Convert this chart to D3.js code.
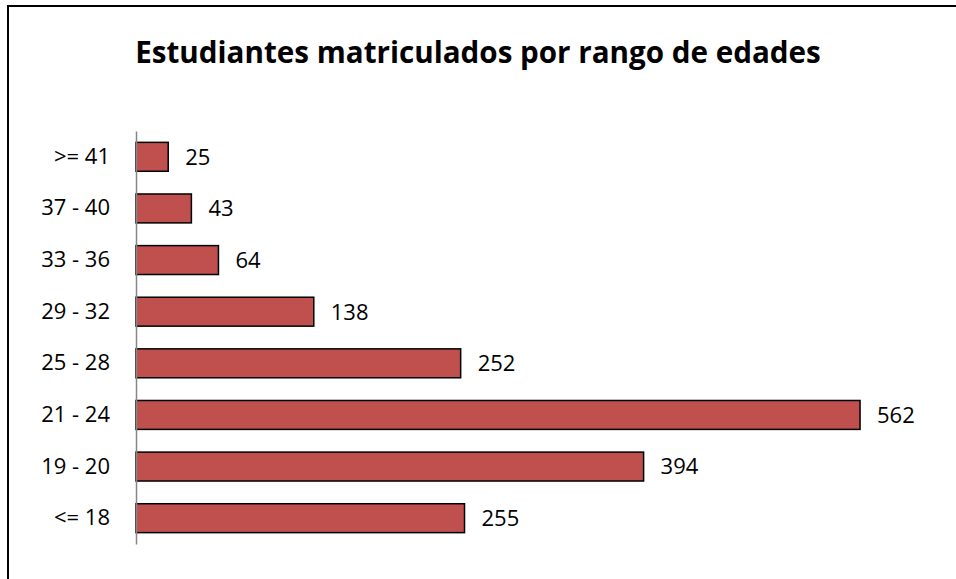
<!DOCTYPE html>
<html>
<head>
<meta charset="utf-8">
<script src="https://cdn.jsdelivr.net/npm/d3@7"></script>
<style>
    body { margin: 0; background: #fff; }
    svg { display: block; }
    text { font-family: "Open Sans", "Liberation Sans", sans-serif; fill: #000; }
</style>
</head>
<body>
<div id="chart"></div>
<script>
// age ranges, top to bottom as drawn
var ageRanges = ['>= 41', '37 - 40', '33 - 36', '29 - 32', '25 - 28', '21 - 24', '19 - 20', '<= 18'];
// enrolled students per range
var students = [25, 43, 64, 138, 252, 562, 394, 255];

var chartTitle = 'Estudiantes matriculados por rango de edades';

var width = 956,
    height = 579;

var svg = d3.select('#chart').append('svg')
    .attr('width', width)
    .attr('height', height);

// outer frame (only top and left edges fall inside the picture)
svg.append('rect')
    .attr('x', 8)
    .attr('y', 6)
    .attr('width', width + 10)
    .attr('height', height + 10)
    .attr('fill', 'none')
    .attr('stroke', '#000')
    .attr('stroke-width', 2);

// title, fitted to the reference width
var title = svg.append('text')
    .attr('x', 478)
    .attr('y', 63)
    .attr('text-anchor', 'middle')
    .attr('font-weight', 'bold')
    .attr('font-size', 32)
    .text(chartTitle);
var tw = title.node().getComputedTextLength();
title.attr('font-size', 32 * 686 / tw);

var data = ageRanges.map(function(d, i){ return {range: d, value: students[i]}; });

var x = d3.scaleLinear()
    .domain([0, 600])
    .range([136, 909]);

var y = d3.scaleBand()
    .domain(ageRanges)
    .range([131, 544])
    .paddingInner(0.44)
    .paddingOuter(0.22);

// bars
svg.append('g')
    .selectAll('rect')
    .data(data)
    .enter().append('rect')
        .attr('x', x(0))
        .attr('y', function(d){ return y(d.range); })
        .attr('width', function(d){ return x(d.value) - x(0); })
        .attr('height', y.bandwidth())
        .attr('fill', '#C0504D')
        .attr('stroke', '#000')
        .attr('stroke-width', 1.5);

// value labels
svg.append('g')
    .selectAll('text')
    .data(data)
    .enter().append('text')
        .attr('x', function(d){ return x(d.value) + 17; })
        .attr('y', function(d){ return y(d.range) + y.bandwidth() / 2; })
        .attr('dy', '0.36em')
        .attr('font-size', 22)
        .text(function(d){ return d.value; });

// category axis
var yAxis = d3.axisLeft(y).tickSize(0).tickPadding(26);
var gy = svg.append('g')
    .attr('transform', 'translate(' + x(0) + ',0)')
    .call(yAxis);
gy.select('.domain').attr('stroke', '#868686').attr('stroke-width', 1.5);
gy.selectAll('text')
    .attr('font-size', 22)
    .attr('font-family', '"Open Sans", "Liberation Sans", sans-serif')
    .attr('fill', '#000');
</script>
</body>
</html>
